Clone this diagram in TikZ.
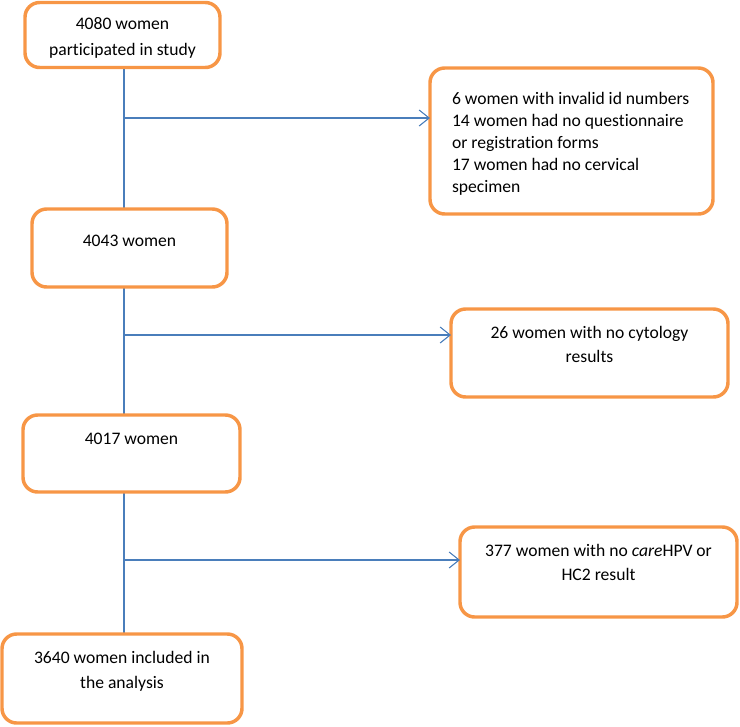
\documentclass[tikz,border=0pt]{standalone}
\usepackage{fontspec}
\setmainfont{Carlito}[Ligatures=NoCommon]
\usetikzlibrary{arrows.meta,backgrounds}
\definecolor{boxorange}{HTML}{F79646}
\definecolor{lineblue}{HTML}{4A7EBB}
\newdimen\pxu \pxu=0.75pt
% #1 width px, #2 height px, #3 first baseline px, #4 baselineskip pt, #5 text
\newcommand\bxtext[5]{\parbox[c][#2\pxu][t]{#1\pxu}{\fontsize{13.2pt}{#4}\selectfont\centering\rule{0pt}{#3\pxu}#5\par}}
\newcommand\bxleft[6]{\parbox[c][#2\pxu][t]{#1\pxu}{\fontsize{13.2pt}{#4}\selectfont\raggedright\leftskip=#6\pxu\rule{0pt}{#3\pxu}#5\par}}
\tikzset{
  flowbox/.style={draw=boxorange, line width=2.6pt, rounded corners=11pt, fill=white, inner sep=0pt, outer sep=0pt},
  flowline/.style={draw=lineblue, line width=0.8pt},
  flowarrow/.style={flowline, -{Straight Barb[length=7.5pt,width=12pt,line width=0.8pt]}}
}
\begin{document}
\begin{tikzpicture}[x=0.75pt,y=-0.75pt]
\useasboundingbox (0,0) rectangle (740,726);
\node[flowbox] (b1) at (122.5,35) {\bxtext{195}{65}{27}{19.5pt}{4080 women\\participated in study}};
\node[flowbox] (b2) at (571.5,141) {\bxleft{283}{146}{36}{16.5pt}{6 women with invalid id numbers\\14 women had no questionnaire\\or registration forms\\17 women had no cervical\\specimen}{22}};
\node[flowbox] (b3) at (129.5,248) {\bxtext{195}{78}{37}{18pt}{4043 women}};
\node[flowbox] (b4) at (589.5,353) {\bxtext{277}{88}{29}{18pt}{26 women with no cytology\\results}};
\node[flowbox] (b5) at (131.5,453.5) {\bxtext{217}{77}{29}{18pt}{4017 women}};
\node[flowbox] (b6) at (598.5,572) {\bxtext{277}{90}{29}{18pt}{377 women with no \textit{care}HPV or\\HC2 result}};
\node[flowbox] (b7) at (122,678.5) {\bxtext{240}{89}{29}{18.75pt}{3640 women included in\\the analysis}};
\coordinate (top) at (124,67);
\coordinate (bot) at (124,634);
\coordinate (j1) at (124,118);
\coordinate (j2) at (124,335);
\coordinate (j3) at (124,560);
\begin{scope}[on background layer]
\draw[flowline] (top) -- (bot);
\end{scope}
\draw[flowarrow] (j1) -- (j1 -| b2.west);
\draw[flowarrow] (j2) -- (j2 -| b4.west);
\draw[flowarrow] (j3) -- (j3 -| b6.west);
\end{tikzpicture}
\end{document}
